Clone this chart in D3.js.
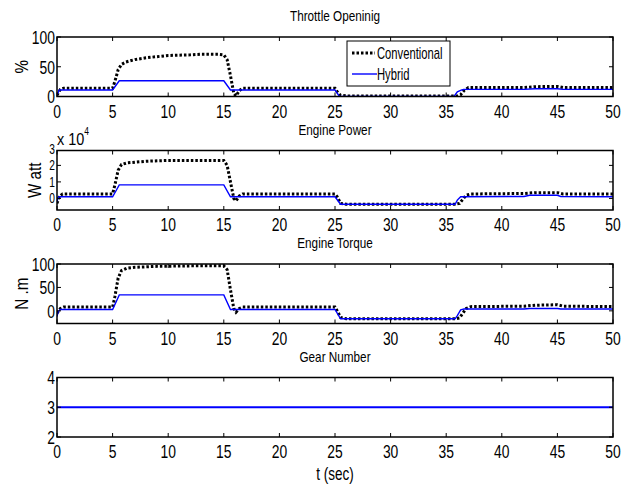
<!DOCTYPE html>
<html><head><meta charset="utf-8">
<script src="https://cdn.jsdelivr.net/npm/d3@7"></script>
<style>
body{margin:0;background:#fff;}
text{font-family:"Liberation Sans",Arial,sans-serif;fill:#000;}
</style></head><body>
<svg id="c" width="627" height="486"></svg>
<script>
// ---- data (t in sec) ----
const xTicks = [0,5,10,15,20,25,30,35,40,45,50];
const seriesNames = ["Conventional","Hybrid"];
const titles = ["Throttle Openinig","Engine Power","Engine Torque","Gear Number"];
const yLabels = ["%","W att","N .m",""];

const throttleConv = [[0,2],[0.3,12],[0.6,14],[5,14],[5.2,25],[5.5,45],[5.8,54],[6.2,58],[7,62],[8,65],[9,67],[10,69],[12,70],[13,71],[14.5,71],[15,70],[15.3,62],[15.6,35],[15.9,5],[16.1,1],[16.4,10],[16.7,14],[25,14],[25.2,8],[25.5,2],[26,1],[35.5,1],[36,1],[36.3,3],[36.6,10],[37,15],[42,15],[43,16.5],[45,17],[45.5,15],[50,15]];
const throttleHyb = [[0,2],[0.2,11],[5,11],[5.6,26.5],[15,26.5],[15.6,11],[25,11],[25.4,0],[35.7,0],[36,8],[36.4,11],[36.6,12],[42,12],[43,13],[45,13],[45.5,12],[50,12]];

const powerConv = [[0,-0.3],[0.2,0.1],[0.5,0.27],[5,0.27],[5.2,0.8],[5.5,1.7],[5.8,2.05],[6.3,2.15],[8,2.25],[10,2.3],[13,2.3],[15,2.3],[15.3,2.0],[15.6,1.0],[15.9,0.0],[16.1,-0.15],[16.4,0.15],[16.7,0.27],[25,0.27],[25.2,0.1],[25.5,-0.3],[26,-0.35],[35.8,-0.35],[36.2,-0.3],[36.5,-0.05],[36.8,0.2],[37.2,0.27],[42,0.3],[43,0.35],[45,0.35],[45.5,0.27],[50,0.27]];
const powerHyb = [[0,-0.2],[0.1,0.05],[0.2,0.1],[5,0.1],[5.6,0.82],[15,0.82],[15.6,0.1],[25,0.1],[25.5,-0.35],[35.8,-0.35],[36,-0.1],[36.3,0.1],[42,0.12],[42.5,0.19],[45,0.19],[45.3,0.12],[50,0.1]];

const torqueConv = [[0,-5],[0.3,5],[0.6,8],[5,8],[5.2,30],[5.5,70],[5.8,86],[6.3,91],[7,93],[9,95],[12,96],[15,96],[15.3,88],[15.6,45],[15.9,5],[16.1,-3],[16.4,5],[16.7,8],[25,8],[25.2,0],[25.5,-14],[26,-17],[35.8,-17],[36.2,-15],[36.5,-5],[36.8,5],[37.2,9],[42,10],[43,12],[45,13],[45.5,10],[50,9]];
const torqueHyb = [[0,-12],[0.1,-2],[0.3,3],[5,3],[5.6,34],[15,34],[15.6,3],[25,3],[25.5,-17],[35.8,-17],[36,-10],[36.3,2],[36.6,4],[42,4],[42.5,5],[45,5],[45.3,4],[50,4]];

const gearConv = [[0,3],[50,3]];
const gearHyb = [[0,3],[50,3]];

const yDomains = [[0,100],[-0.7,2.9],[-27,100],[2,4]];
const yTicks = [[0,50,100],[0,1,2,3],[0,50,100],[2,3,4]];

// ---- layout ----
const svg = d3.select("#c");
const left = 57, right = 613, ph = 59.5;
const tops = [37, 150.5, 264, 377.5];
const x = d3.scaleLinear().domain([0,50]).range([left,right]);
const conv = [throttleConv, powerConv, torqueConv, gearConv];
const hyb = [throttleHyb, powerHyb, torqueHyb, gearHyb];

// condensed text helper
function txt(parent, px, py, str, size, anchor, sx, dy, rot) {
  const t = parent.append("text")
    .attr("transform", `translate(${px},${py})` + (rot ? ` rotate(${rot})` : "") + ` scale(${sx},1)`)
    .attr("text-anchor", anchor).style("font-size", size + "px").text(str);
  if (dy) t.attr("dy", dy);
  return t;
}

tops.forEach((top,i)=>{
  const y = d3.scaleLinear().domain(yDomains[i]).range([top+ph, top]);
  const g = svg.append("g");
  const clipId = "clip"+i;
  svg.append("clipPath").attr("id",clipId).append("rect")
    .attr("x",left).attr("y",top).attr("width",right-left).attr("height",ph);
  const line = d3.line().x(d=>x(d[0])).y(d=>y(d[1]));
  const pg = g.append("g").attr("clip-path",`url(#${clipId})`);
  if (i<3) {
    pg.append("path").datum(conv[i]).attr("d",line).attr("fill","none")
      .attr("stroke","#000").attr("stroke-width",3).attr("stroke-dasharray","2.5,2");
  }
  pg.append("path").datum(hyb[i]).attr("d",line).attr("fill","none")
    .attr("stroke","#0000ff").attr("stroke-width", i===3?2.2:1.4);
  const tl = 4;
  const ax = g.append("g").attr("stroke","#000").attr("stroke-width",1);
  xTicks.forEach(t=>{
    ax.append("line").attr("x1",x(t)).attr("x2",x(t)).attr("y1",top+ph).attr("y2",top+ph-tl);
    ax.append("line").attr("x1",x(t)).attr("x2",x(t)).attr("y1",top).attr("y2",top+tl);
  });
  yTicks[i].forEach(v=>{
    const yy = y(v);
    if (yy < top-0.5 || yy > top+ph+0.5) return;
    ax.append("line").attr("x1",left).attr("x2",left+tl).attr("y1",yy).attr("y2",yy);
    ax.append("line").attr("x1",right).attr("x2",right-tl).attr("y1",yy).attr("y2",yy);
  });
  g.append("rect").attr("x",left).attr("y",top).attr("width",right-left).attr("height",ph)
    .attr("fill","none").attr("stroke","#000").attr("stroke-width",1.5);
  // tick labels
  xTicks.forEach(d=>txt(g, x(d), top+ph+21, d, 19, "middle", 0.73));
  const ys = i===1 ? 14 : 19;
  yTicks[i].forEach(d=>txt(g, left-2, y(d), d, ys, "end", 0.73, "0.36em"));
  // title
  txt(g, (left+right)/2, top-16, titles[i], 14, "middle", 0.84);
  // y label
  if (yLabels[i]) {
    const lx = i===1 ? 34 : 21;
    txt(g, lx, top+ph/2, yLabels[i], 19, "middle", 0.8, "0.35em", -90);
  }
});

// x 10^4 multiplier
const mt = txt(svg, left, 145, "", 17, "start", 0.85);
mt.append("tspan").text("x 10");
mt.append("tspan").attr("dy",-10).style("font-size","10px").text("4");

// x axis label
txt(svg, (left+right)/2, 480, "t (sec)", 18, "middle", 0.75);

// legend
const lg = svg.append("g");
lg.append("rect").attr("x",347).attr("y",41).attr("width",103).attr("height",45)
  .attr("fill","#fff").attr("stroke","#000").attr("stroke-width",1);
lg.append("line").attr("x1",352).attr("x2",375).attr("y1",53).attr("y2",53)
  .attr("stroke","#000").attr("stroke-width",3).attr("stroke-dasharray","2.5,2");
lg.append("line").attr("x1",352).attr("x2",377).attr("y1",74).attr("y2",74)
  .attr("stroke","#0000ff").attr("stroke-width",1.4);
txt(lg, 377, 53, seriesNames[0], 17, "start", 0.66, "0.36em");
txt(lg, 377, 74, seriesNames[1], 17, "start", 0.66, "0.36em");
</script></body></html>
